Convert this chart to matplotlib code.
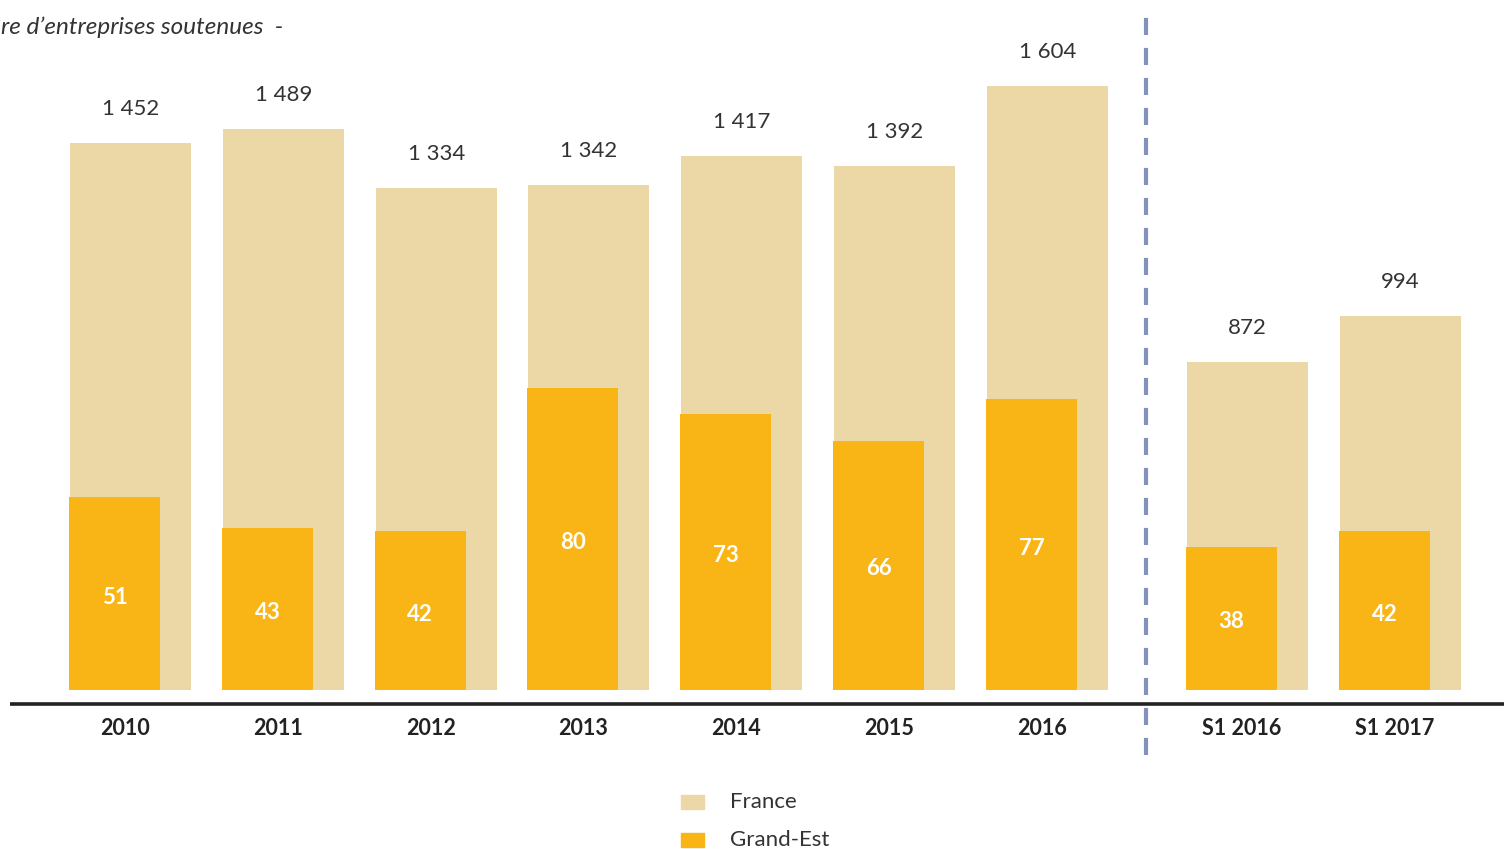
import matplotlib.pyplot as plt
from matplotlib.patches import Rectangle

categories = ["2010", "2011", "2012", "2013", "2014", "2015", "2016", "S1 2016", "S1 2017"]
france = [1452, 1489, 1334, 1342, 1417, 1392, 1604, 872, 994]
grand_est = [51, 43, 42, 80, 73, 66, 77, 38, 42]
france_labels = ["1 452", "1 489", "1 334", "1 342", "1 417", "1 392", "1 604", "872", "994"]

c_france = "#ECD7A6"
c_ge = "#F9B515"
c_text = "#333333"

plt.rcParams['font.family'] = ['Lato', 'DejaVu Sans']

fig = plt.figure(figsize=(15.04, 8.49), dpi=100)
ax = fig.add_axes([0, 0, 1, 1])
ax2 = ax.twinx()

# slots: 7 years, then a gap, then the two half-years
gap = 0.309
x = [i if i < 7 else i + gap for i in range(len(categories))]

slot = 152.83  # px per slot
ax.set_xlim(-70 / slot, (1504 - 70) / slot)
ax.set_ylim((690 - 849) / 0.37656, 690 / 0.37656)
ax2.set_ylim((690 - 849) / 3.775, 690 / 3.775)

ax.bar(x, france, width=121 / slot, align='edge', color=c_france, zorder=1)
ax2.bar([v - 1 / slot for v in x], grand_est, width=91 / slot, align='edge', color=c_ge, zorder=2)

for xi, v, lab in zip(x, france, france_labels):
    ax.annotate(lab, (xi + 60.5 / slot, v), xytext=(0, 24.5), textcoords='offset points',
                ha='center', va='center', fontsize=16, color=c_text)

for xi, v in zip(x, grand_est):
    ax2.annotate(str(v), (xi + 44.5 / slot, v / 2), xytext=(0, -2.5), textcoords='offset points',
                 ha='center', va='center', fontsize=16, fontweight='bold', color='white')

for xi, cat in zip(x, categories):
    ax.annotate(cat, (xi + 55 / slot, 0), xytext=(0, -27.5), textcoords='offset points',
                ha='center', va='center', fontsize=15.5, fontweight='bold', color='#222222')

# baseline
ax.hlines(-14 / 0.37656, (10 - 70) / slot, ax.get_xlim()[1], color='#222222', lw=2.6, zorder=3)

# separator between years and half-years
xsep = (x[6] + 121 / slot + x[7]) / 2 - 2 / slot
ax.vlines(xsep, (690 - 755) / 0.37656, (690 - 10) / 0.37656, color='#8292BA', lw=3,
          linestyles=(0, (4.1, 3.1)), zorder=3)

fig.text(1 / 1504, 1 - 27 / 849, "re d\u2019entreprises soutenues  -", ha='left', va='center',
         fontsize=17.5, style='italic', color=c_text)

# legend
for i, (lab, col) in enumerate([("France", c_france), ("Grand-Est", c_ge)]):
    yc = 802 + 38 * i
    fig.patches.append(Rectangle((681 / 1504, 1 - (yc + 7) / 849), 23 / 1504, 14 / 849,
                                 transform=fig.transFigure, color=col))
    fig.text(730 / 1504, 1 - yc / 849, lab, ha='left', va='center', fontsize=16, color=c_text)

for a in (ax, ax2):
    a.axis('off')

fig.savefig("out.png", dpi=100)
